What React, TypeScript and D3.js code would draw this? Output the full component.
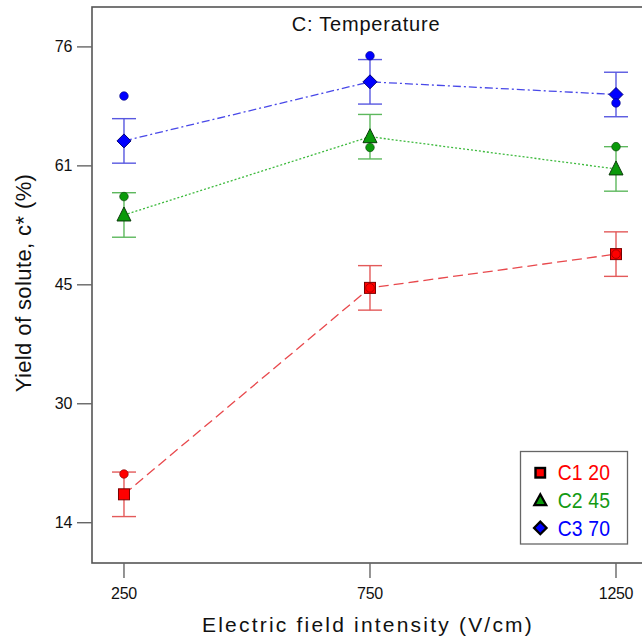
import React from "react";
import * as d3 from "d3";

const xLevels = [250, 750, 1250];
const xTickLabels = ["250", "750", "1250"];
const yTickValues = [14, 29.5, 45, 60.5, 76];
const yTickLabels = ["14", "30", "45", "61", "76"];

const seriesNames = ["C1 20", "C2 45", "C3 70"];
const meanC1 = [17.7, 44.6, 49.0];
const meanC2 = [54.1, 64.3, 60.1];
const meanC3 = [63.75, 71.45, 69.8];
const obsC1 = [20.35, 44.6, 49.0];
const obsC2 = [56.5, 62.9, 63.0];
const obsC3 = [69.6, 74.85, 68.7];
const errorHalf = 2.9;

const W = 642;
const H = 638;
const left = 92;
const top = 7;
const bottom = 563;

const font = "'Liberation Sans', Arial, sans-serif";

export default function App() {
  const x = d3.scaleLinear().domain([185, 1250]).range([left, 616]);
  const y = d3.scaleLinear().domain([8.75, 81.2]).range([bottom, top]);

  const series = [
    { name: seriesNames[0], mean: meanC1, obs: obsC1, fill: "#FF0000", stroke: "#7a0000", line: "#E8484C", err: "#E35A5A", dash: "10,5", shape: "square", text: "#FF0000" },
    { name: seriesNames[1], mean: meanC2, obs: obsC2, fill: "#0A9A0A", stroke: "#0a3a0a", line: "#3DBA3D", err: "#5DB85D", dash: "2,2", shape: "triangle", text: "#139A13" },
    { name: seriesNames[2], mean: meanC3, obs: obsC3, fill: "#0000FF", stroke: "#00007a", line: "#4848E8", err: "#5858E0", dash: "8,3,2,3", shape: "diamond", text: "#0000FF" },
  ];

  const line = d3.line<number>().x((_, i) => x(xLevels[i])).y((d) => y(d));

  const marker = (shape: string, cx: number, cy: number, fill: string, stroke: string, sw: number, key: string) => {
    if (shape === "square") {
      return <rect key={key} x={cx - 5.5} y={cy - 5.5} width={11} height={11} fill={fill} stroke={stroke} strokeWidth={sw} />;
    }
    if (shape === "triangle") {
      const s = 7;
      return <path key={key} d={`M${cx},${cy - s - 1}L${cx + s},${cy + s - 1}L${cx - s},${cy + s - 1}Z`} fill={fill} stroke={stroke} strokeWidth={sw} />;
    }
    const s = 7;
    return <path key={key} d={`M${cx},${cy - s}L${cx + s},${cy}L${cx},${cy + s}L${cx - s},${cy}Z`} fill={fill} stroke={stroke} strokeWidth={sw} />;
  };

  return (
    <svg width={W} height={H} style={{ display: "block", position: "absolute", left: 0, top: 0 }}>
      <rect x={0} y={0} width={W} height={H} fill="#fff" />
      {/* plot frame */}
      <rect x={left} y={top} width={600} height={bottom - top} fill="none" stroke="#555" strokeWidth={1.6} />

      {/* title */}
      <text x={366} y={24} textAnchor="middle" dominantBaseline="central" fontFamily={font} fontSize={20} letterSpacing={0.8} fill="#111">
        C: Temperature
      </text>

      {/* y ticks */}
      {yTickValues.map((v, i) => (
        <g key={"yt" + i}>
          <line x1={left - 15} x2={left} y1={y(v)} y2={y(v)} stroke="#666" strokeWidth={1.4} />
          <text x={72} y={y(v)} textAnchor="end" dominantBaseline="central" fontFamily={font} fontSize={16} letterSpacing={-0.3} fill="#111">
            {yTickLabels[i]}
          </text>
        </g>
      ))}

      {/* x ticks */}
      {xLevels.map((v, i) => (
        <g key={"xt" + i}>
          <line x1={x(v)} x2={x(v)} y1={bottom} y2={bottom + 15} stroke="#666" strokeWidth={1.4} />
          <text x={x(v)} y={593} textAnchor="middle" dominantBaseline="central" fontFamily={font} fontSize={16} letterSpacing={-0.3} fill="#111">
            {xTickLabels[i]}
          </text>
        </g>
      ))}

      {/* axis titles */}
      <text x={368} y={624} textAnchor="middle" dominantBaseline="central" fontFamily={font} fontSize={21} letterSpacing={2.2} fill="#111">
        Electric field intensity (V/cm)
      </text>
      <text transform={`translate(23,283) rotate(-90)`} textAnchor="middle" dominantBaseline="central" fontFamily={font} fontSize={22} letterSpacing={0.4} fill="#111">
        Yield of solute, c* (%)
      </text>

      {/* series */}
      {series.map((s, si) => (
        <g key={"s" + si}>
          <path d={line(s.mean) || ""} fill="none" stroke={s.line} strokeWidth={1.3} strokeDasharray={s.dash} />
          {s.mean.map((m, i) => (
            <g key={"e" + i} stroke={s.err} strokeWidth={1.4}>
              <line x1={x(xLevels[i])} x2={x(xLevels[i])} y1={y(m - errorHalf)} y2={y(m + errorHalf)} />
              <line x1={x(xLevels[i]) - 12} x2={x(xLevels[i]) + 12} y1={y(m + errorHalf)} y2={y(m + errorHalf)} />
              <line x1={x(xLevels[i]) - 12} x2={x(xLevels[i]) + 12} y1={y(m - errorHalf)} y2={y(m - errorHalf)} />
            </g>
          ))}
          {s.mean.map((m, i) => marker(s.shape, x(xLevels[i]), y(m), s.fill, s.stroke, 1, "m" + i))}
          {s.obs.map((o, i) => (
            <circle key={"o" + i} cx={x(xLevels[i])} cy={y(o)} r={4.3} fill={s.fill} stroke={s.stroke} strokeWidth={0.6} />
          ))}
        </g>
      ))}

      {/* legend */}
      <rect x={520.5} y={451.5} width={107} height={92.5} fill="#fff" stroke="#666" strokeWidth={1.3} />
      {series.map((s, i) => {
        const cy = 472.5 + i * 27.7;
        return (
          <g key={"lg" + i}>
            {s.shape === "square" ? (
              <rect x={535.5} y={cy - 4.5} width={9.5} height={9.5} fill={s.fill} stroke="#000" strokeWidth={2.4} />
            ) : s.shape === "triangle" ? (
              <path d={`M540.3,${cy - 6}L546.3,${cy + 5}L534.3,${cy + 5}Z`} fill={s.fill} stroke="#000" strokeWidth={2.2} strokeLinejoin="miter" />
            ) : (
              <path d={`M540.3,${cy - 6.3}L546.6,${cy}L540.3,${cy + 6.3}L534,${cy}Z`} fill={s.fill} stroke="#000" strokeWidth={2.2} />
            )}
            <g transform={`translate(557.7,${cy}) scale(0.88,1)`}>
              <text x={0} y={0} dominantBaseline="central" fontFamily={font} fontSize={22} letterSpacing={0.2} fill={s.text}>
                {s.name}
              </text>
            </g>
          </g>
        );
      })}
    </svg>
  );
}
